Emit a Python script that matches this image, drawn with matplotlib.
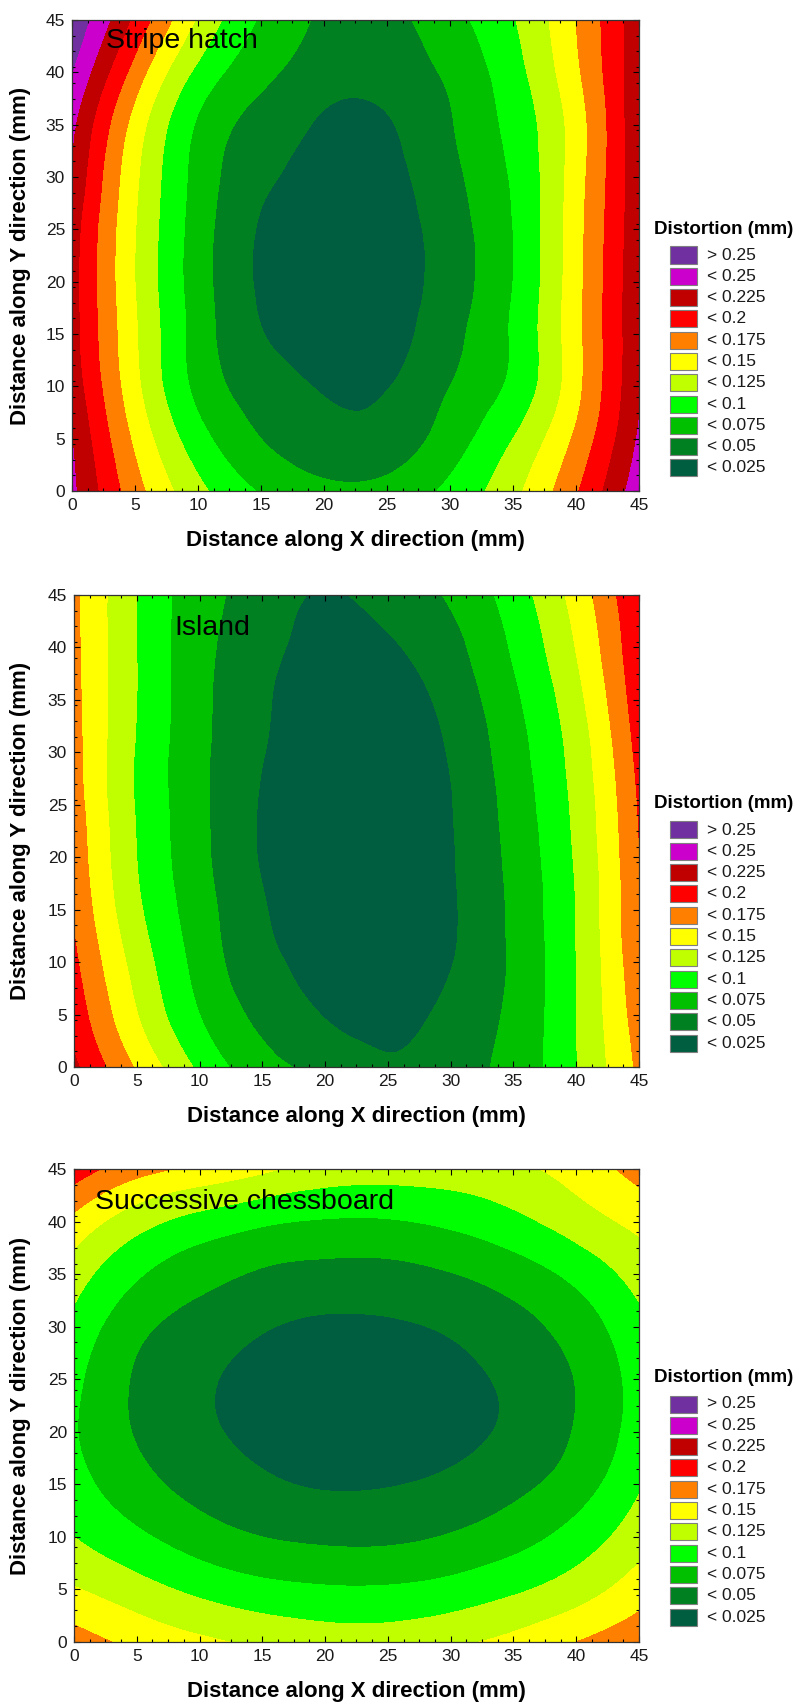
import numpy as np
import matplotlib
matplotlib.use('Agg')
import matplotlib.pyplot as plt
import matplotlib.tri as mtri
from matplotlib.patches import Rectangle
from matplotlib.ticker import MultipleLocator

plt.rcParams['font.family'] = ['Liberation Sans', 'DejaVu Sans']

X_MM = [0, 5, 10, 15, 20, 25, 30, 35, 40, 45]
Y_MM = [0, 5, 10, 15, 20, 25, 30, 35, 40, 45]

# distortion (mm), one row per Y_MM value, columns follow X_MM
STRIPE_HATCH = [
    [0.230, 0.160, 0.107, 0.073, 0.056, 0.058, 0.081, 0.118, 0.172, 0.240],
    [0.225, 0.145, 0.085, 0.050, 0.034, 0.035, 0.062, 0.100, 0.155, 0.228],
    [0.215, 0.132, 0.068, 0.037, 0.023, 0.024, 0.050, 0.081, 0.142, 0.222],
    [0.210, 0.128, 0.064, 0.026, 0.015, 0.016, 0.042, 0.078, 0.142, 0.220],
    [0.210, 0.125, 0.062, 0.022, 0.012, 0.013, 0.037, 0.075, 0.141, 0.220],
    [0.212, 0.126, 0.063, 0.023, 0.013, 0.014, 0.038, 0.075, 0.140, 0.218],
    [0.222, 0.130, 0.066, 0.030, 0.017, 0.018, 0.043, 0.078, 0.138, 0.218],
    [0.230, 0.140, 0.072, 0.040, 0.022, 0.023, 0.048, 0.083, 0.137, 0.220],
    [0.250, 0.165, 0.094, 0.057, 0.036, 0.035, 0.055, 0.090, 0.145, 0.218],
    [0.270, 0.194, 0.122, 0.072, 0.046, 0.043, 0.066, 0.098, 0.150, 0.215],
]

ISLAND = [
    [0.205, 0.147, 0.095, 0.059, 0.042, 0.027, 0.038, 0.059, 0.099, 0.155],
    [0.190, 0.126, 0.075, 0.043, 0.024, 0.018, 0.031, 0.056, 0.100, 0.162],
    [0.180, 0.115, 0.066, 0.032, 0.018, 0.013, 0.024, 0.054, 0.100, 0.168],
    [0.172, 0.105, 0.061, 0.027, 0.014, 0.011, 0.022, 0.055, 0.101, 0.172],
    [0.166, 0.100, 0.057, 0.023, 0.012, 0.011, 0.023, 0.057, 0.103, 0.174],
    [0.162, 0.098, 0.056, 0.023, 0.012, 0.011, 0.024, 0.060, 0.106, 0.177],
    [0.159, 0.098, 0.056, 0.026, 0.013, 0.012, 0.027, 0.064, 0.110, 0.183],
    [0.157, 0.100, 0.057, 0.028, 0.015, 0.015, 0.033, 0.070, 0.117, 0.190],
    [0.156, 0.100, 0.058, 0.032, 0.018, 0.022, 0.042, 0.078, 0.126, 0.195],
    [0.155, 0.100, 0.060, 0.038, 0.023, 0.035, 0.053, 0.087, 0.135, 0.200],
]

CHESSBOARD = [
    [0.162, 0.143, 0.130, 0.120, 0.113, 0.112, 0.120, 0.132, 0.150, 0.168],
    [0.127, 0.110, 0.094, 0.083, 0.078, 0.078, 0.084, 0.096, 0.113, 0.138],
    [0.100, 0.080, 0.062, 0.050, 0.045, 0.045, 0.052, 0.065, 0.085, 0.114],
    [0.084, 0.059, 0.041, 0.029, 0.023, 0.024, 0.030, 0.043, 0.063, 0.097],
    [0.077, 0.048, 0.030, 0.018, 0.012, 0.013, 0.018, 0.030, 0.052, 0.086],
    [0.081, 0.047, 0.029, 0.017, 0.012, 0.012, 0.018, 0.030, 0.051, 0.085],
    [0.093, 0.057, 0.039, 0.027, 0.021, 0.022, 0.028, 0.041, 0.061, 0.093],
    [0.112, 0.078, 0.059, 0.047, 0.042, 0.042, 0.049, 0.062, 0.082, 0.110],
    [0.143, 0.110, 0.091, 0.079, 0.073, 0.073, 0.080, 0.093, 0.112, 0.132],
    [0.190, 0.160, 0.145, 0.130, 0.116, 0.112, 0.113, 0.120, 0.135, 0.160],
]

PANEL_NAMES = ['Stripe hatch', 'Island', 'Successive chessboard']
NAME_POS = [(2.7, 43.0), (8.0, 41.9), (1.7, 41.9)]

LEVELS = [-1, 0.025, 0.05, 0.075, 0.1, 0.125, 0.15, 0.175, 0.2, 0.225, 0.25, 1]
BAND_COLORS = ['#005E40', '#008020', '#00C000', '#00FF00', '#C0FF00', '#FFFF00',
               '#FF8000', '#FF0000', '#C00000', '#CC00CC', '#7030A0']
BAND_LABELS = ['< 0.025', '< 0.05', '< 0.075', '< 0.1', '< 0.125', '< 0.15',
               '< 0.175', '< 0.2', '< 0.225', '< 0.25', '> 0.25']

W, H = 804, 1707
# left, top, right, bottom of each plot frame in pixels
PANEL_BOXES = [(72, 20, 639, 491), (74, 595, 639, 1067), (74, 1169, 639, 1642)]

fig = plt.figure(figsize=(W / 100, H / 100), dpi=100)

xx, yy = np.meshgrid(X_MM, Y_MM)
tri = mtri.Triangulation(xx.ravel(), yy.ravel())
refiner = mtri.UniformTriRefiner(tri)

for field, name, npos, box in zip([STRIPE_HATCH, ISLAND, CHESSBOARD], PANEL_NAMES, NAME_POS, PANEL_BOXES):
    l, t, r, b = box
    ax = fig.add_axes([l / W, 1 - b / H, (r - l) / W, (b - t) / H])
    tri_f, z_f = refiner.refine_field(np.array(field).ravel(), subdiv=4)
    ax.tricontourf(tri_f, z_f, levels=LEVELS, colors=BAND_COLORS)
    ax.set_xlim(0, 45)
    ax.set_ylim(0, 45)
    ax.xaxis.set_major_locator(MultipleLocator(5))
    ax.yaxis.set_major_locator(MultipleLocator(5))
    ax.xaxis.set_minor_locator(MultipleLocator(1.25))
    ax.yaxis.set_minor_locator(MultipleLocator(1.5))
    ax.tick_params(which='both', direction='in', top=True, right=True,
                   labelsize=12.5, labelcolor='#1a1a1a', width=0.8)
    ax.tick_params(which='major', length=4, pad=5)
    ax.tick_params(which='minor', length=2.5)
    for sp in ax.spines.values():
        sp.set_linewidth(0.9)
        sp.set_color('#333333')
    ax.text(npos[0], npos[1], name, fontsize=20.5, ha='left', va='center')
    ax.set_xlabel('Distance along X direction (mm)', fontsize=16, fontweight='bold')
    ax.set_ylabel('Distance along Y direction (mm)', fontsize=16, fontweight='bold')
    ax.xaxis.set_label_coords(0.5, -39 / (b - t))
    ax.yaxis.set_label_coords((31 - l) / (r - l), 0.5)

    # legend drawn at fixed pixel spots to the right of the frame
    fig.text(654 / W, 1 - (t + 209) / H, 'Distortion (mm)', fontsize=13.5,
             fontweight='bold', ha='left', va='center')
    for i, (col, lab) in enumerate(zip(BAND_COLORS[::-1], BAND_LABELS[::-1])):
        yc = t + 235 + i * 21.3
        fig.add_artist(Rectangle((670 / W, 1 - (yc + 8.5) / H), 27 / W, 17 / H,
                                 transform=fig.transFigure, facecolor=col,
                                 edgecolor='#7f7f7f', linewidth=0.8))
        fig.text(707 / W, 1 - yc / H, lab, fontsize=12.5, color='#1a1a1a',
                 ha='left', va='center')

fig.savefig('out.png', dpi=100)
